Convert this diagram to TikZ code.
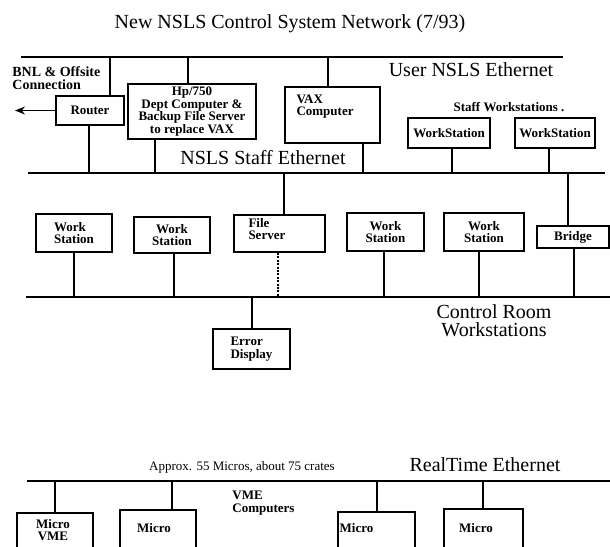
\documentclass[tikz,border=0pt]{standalone}
\usepackage{fontspec}
\setmainfont{Liberation Serif}
\usetikzlibrary{arrows.meta}
\begin{document}
\begin{tikzpicture}[x=0.5pt,y=-0.5pt,
    bus/.style={line width=1.4pt},
    wire/.style={line width=0.8pt},
    box/.style={draw,line width=0.9pt,inner sep=0pt,align=center,
      font=\bfseries\fontsize{6.5}{6.2}\selectfont},
    lbl/.style={inner sep=0pt,align=left,font=\bfseries\fontsize{6.5}{6.2}\selectfont},
    big/.style={inner sep=0pt,align=center,font=\fontsize{10}{9}\selectfont}]
\useasboundingbox (0,0) rectangle (610,546);
\clip (0,0) rectangle (610,546);

\node[big,anchor=base] (title) at (290,28) {New NSLS Control System Network (7/93)};

% the four ethernets
\coordinate (usrW) at (21,57);  \coordinate (usrE) at (563,57);
\coordinate (stfW) at (28,173); \coordinate (stfE) at (605,173);
\coordinate (ctlW) at (26,297); \coordinate (ctlE) at (612,297);
\coordinate (rtW) at (27,481);  \coordinate (rtE) at (612,481);
\foreach \a/\b in {usrW/usrE,stfW/stfE,ctlW/ctlE,rtW/rtE}
  \draw[bus] (\a) -- (\b);

\node[big] (usrlbl) at (471,70) {User NSLS Ethernet};
\node[big] (stflbl) at (263,158) {NSLS Staff Ethernet};
\node[big] (ctllbl) at (494,321) {Control Room\\Workstations};
\node[big] (rtlbl) at (485,465) {RealTime Ethernet};

\node[lbl,anchor=west,font=\bfseries\fontsize{7}{6.2}\selectfont] (bnl) at (12,78) {BNL \& Offsite\\Connection};
\node[lbl] (stfws) at (509,107) {Staff Workstations .};
\node[lbl,font=\fontsize{6.5}{6.2}\selectfont] (approx) at (242,467) {Approx. 55 Micros, about 75 crates};
\node[lbl,anchor=north west] (vmelbl) at (232,491) {VME\\Computers};

% user / staff machines
\node[box,minimum width=34pt,minimum height=14.5pt] (rtr) at (90,110.5) {Router};
\node[box,minimum width=64pt,minimum height=27.5pt] (hp) at (192,111.5)
  {Hp/750\\Dept Computer \&\\Backup File Server\\to replace VAX};
\node[box,minimum width=47.5pt,minimum height=28pt,
  label={[lbl,anchor=north west,xshift=6pt,yshift=-4pt]north west:VAX\\Computer}] (vax) at (332.5,115) {};
\node[box,minimum width=41pt,minimum height=15pt] (ws1) at (449,133) {WorkStation};
\node[box,minimum width=40pt,minimum height=15pt] (ws2) at (555,133) {WorkStation};

\coordinate (offsite) at (15,110.5);
\draw[wire,-{Stealth[length=5pt,width=4pt]}] (rtr.west) -- (offsite);

% control room
\node[box,align=left,minimum width=38pt,minimum height=19pt] (wsa) at (74,233) {Work\\Station};
\node[box,minimum width=38pt,minimum height=18pt] (wsb) at (172,235) {Work\\Station};
\node[box,minimum width=45.5pt,minimum height=18.5pt,
  label={[lbl,anchor=north west,xshift=7.5pt,yshift=-2pt]north west:File\\Server}] (fsv) at (279.5,233.5) {};
\node[box,minimum width=38.5pt,minimum height=19pt] (wsc) at (385.5,232) {Work\\Station};
\node[box,minimum width=40pt,minimum height=19pt] (wsd) at (484,232) {Work\\Station};
\node[box,minimum width=36pt,minimum height=11pt] (brg) at (573,237) {Bridge};
\node[box,align=left,minimum width=38.5pt,minimum height=20pt] (err) at (251.5,349) {Error\\Display};

% realtime micros
\node[box,minimum width=38pt,minimum height=40pt,
  label={[lbl,align=center,anchor=north,xshift=-1pt,yshift=-3.5pt]north:Micro\\VME}] (mc1) at (55,553) {};
\node[box,minimum width=38pt,minimum height=40pt,
  label={[lbl,anchor=north,xshift=-2pt,yshift=-7pt]north:Micro}] (mc2) at (158,550) {};
\node[box,minimum width=38.5pt,minimum height=40pt,
  label={[lbl,anchor=north,xshift=-10pt,yshift=-6pt]north:Micro}] (mc3) at (376.5,552) {};
\node[box,minimum width=39.5pt,minimum height=40pt,
  label={[lbl,anchor=north,xshift=-3.75pt,yshift=-7.5pt]north:Micro}] (mc4) at (483.5,549) {};

% taps
\foreach \n/\x in {rtr/110,hp/188,vax/328}
  \draw[wire] (\x,0 |- usrW) -- (\x,0 |- \n.north);
\foreach \n/\x in {rtr/89,hp/155,vax/363,ws1/452,ws2/549}
  \draw[wire] (\x,0 |- stfW) -- (\x,0 |- \n.south);
\foreach \n/\x in {fsv/284,brg/568}
  \draw[wire] (\x,0 |- stfW) -- (\x,0 |- \n.north);
\foreach \n/\x in {wsa/74,wsb/174,wsc/384,wsd/479,brg/574}
  \draw[wire] (\x,0 |- ctlW) -- (\x,0 |- \n.south);
\draw[wire,dash pattern=on 1pt off 0.7pt] (278,0 |- fsv.south) -- (278,0 |- ctlW);
\draw[wire] (252,0 |- ctlW) -- (252,0 |- err.north);
\foreach \n/\x in {mc1/55,mc2/172,mc3/377,mc4/483}
  \draw[wire] (\x,0 |- rtW) -- (\x,0 |- \n.north);

\end{tikzpicture}
\end{document}
